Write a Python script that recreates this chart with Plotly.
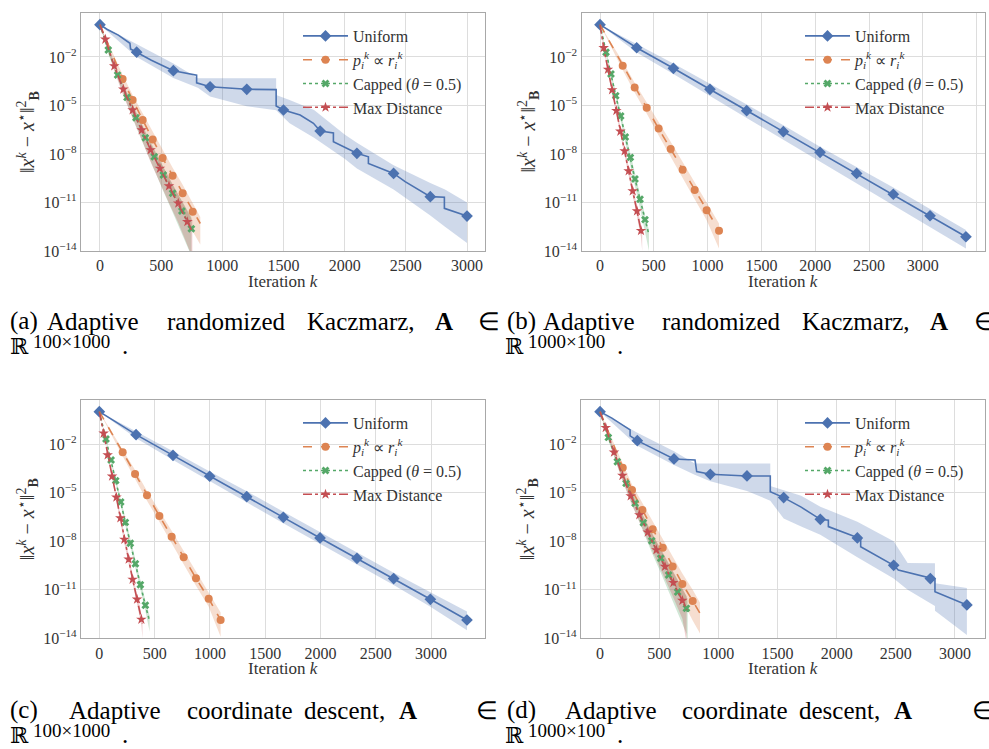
import plotly.graph_objects as go

W, H = 989, 749
SERIF = "Liberation Serif"

# ------------------------------------------------------------------
# Data: iteration k and log10 of the error  ||x^k - x*||_B^2
# ------------------------------------------------------------------
LABELS = ["Uniform",
          "<i>p</i><sub><i>i</i></sub><sup><i>k</i></sup> \u221d <i>r</i><sub><i>i</i></sub><sup><i>k</i></sup>",
          "Capped (<i>\u03b8</i> = 0.5)",
          "Max Distance"]

X_TICKS_A = [0, 500, 1000, 1500, 2000, 2500, 3000]
X_TICKS_B = [0, 500, 1000, 1500, 2000, 2500, 3000, 3500]
Y_TICKS_LOG = [-14, -11, -8, -5, -2]

# ---- panel (a): Kaczmarz, A in R^{100x1000}
A_UNI_K = [0, 60, 150, 245, 250, 300, 420, 600, 700, 790, 790, 900, 1200, 1440, 1440, 1500, 1636, 1745,
           1800, 1908, 1908, 2100, 2194, 2194, 2400, 2494, 2700, 2815, 2815, 3000]
A_UNI_V = [0, -0.3, -0.65, -1.15, -1.5, -1.7, -2.2, -2.85, -3.0, -3.12, -3.6, -3.84, -4.0, -4.02, -5.03,
           -5.28, -5.59, -6.1, -6.58, -6.7, -7.24, -7.96, -8.17, -8.58, -9.2, -9.71, -10.64, -10.68, -11.36, -11.84]
A_UNI_MK = [0, 300, 600, 900, 1200, 1500, 1800, 2100, 2400, 2700, 3000]
A_UNI_BK = [0, 300, 600, 800, 900, 1200, 1440, 1440, 1550, 1750, 2000, 2100, 2400, 2700, 2820, 3000]
A_UNI_HI = [0, -1.2, -2.4, -3.32, -3.32, -3.32, -3.32, -4.35, -4.66, -5.28, -6.8, -7.3, -8.7, -9.8, -10.2, -11.0]
A_UNI_LO = [0, -2.0, -3.3, -3.9, -4.45, -5.05, -5.3, -5.3, -6.1, -7.0, -8.3, -8.9, -10.2, -11.8, -12.5, -13.5]

A_ORA_K = [0, 185, 267, 349, 431, 512, 594, 676, 758, 820]
A_ORA_V = [0, -3.36, -4.66, -5.9, -7.1, -8.25, -9.34, -10.43, -11.57, -12.3]
A_ORA_HI = [0, -3.1, -4.35, -5.5, -6.65, -7.75, -8.85, -9.9, -11.0, -11.9]
A_ORA_LO = [0, -3.7, -5.1, -6.5, -7.8, -9.1, -10.3, -11.5, -12.8, -13.6]
A_ORA_MK = [185, 267, 349, 431, 512, 594, 676, 758]

A_GRN_K = [0, 68, 144, 221, 294, 371, 444, 518, 594, 670, 747]
A_GRN_V = [0, -1.57, -3.12, -4.5, -5.76, -7.0, -8.17, -9.3, -10.43, -11.53, -12.62]
A_GRN_HI = [0, -1.4, -2.9, -4.2, -5.4, -6.6, -7.7, -8.8, -9.9, -10.9, -11.9]
A_GRN_LO = [0, -1.8, -3.4, -4.9, -6.3, -7.7, -9.0, -10.3, -11.6, -12.9, -14.3]
A_GRN_MK = [68, 144, 221, 294, 371, 444, 518, 594, 670, 747]

A_RED_K = [0, 44, 117, 191, 267, 341, 414, 490, 564, 640, 714, 755]
A_RED_V = [0, -0.91, -2.56, -4.0, -5.28, -6.52, -7.75, -8.89, -9.98, -11.05, -12.19, -12.8]
A_RED_HI = [0, -0.8, -2.35, -3.75, -4.98, -6.17, -7.35, -8.44, -9.48, -10.5, -11.6, -12.1]
A_RED_LO = [0, -1.06, -2.86, -4.4, -5.78, -7.12, -8.5, -9.79, -11.03, -12.25, -13.6, -14.4]
A_RED_MK = [44, 117, 191, 267, 341, 414, 490, 564, 640, 714]

# ---- panel (b): Kaczmarz, A in R^{1000x100}
B_UNI_K = [0, 341, 682, 1022, 1363, 1704, 2045, 2385, 2726, 3067, 3401]
B_UNI_V = [0, -1.43, -2.7, -4.0, -5.32, -6.62, -7.9, -9.2, -10.49, -11.82, -13.12]
B_UNI_HI = [0, -1.18, -2.4, -3.65, -4.92, -6.22, -7.55, -8.8, -10.08, -11.4, -12.7]
B_UNI_LO = [0, -1.73, -3.05, -4.4, -5.77, -7.12, -8.48, -9.8, -11.14, -12.52, -13.85]
B_UNI_MK = [0, 341, 682, 1022, 1363, 1704, 2045, 2385, 2726, 3067, 3401]

B_ORA_K = [0, 211, 322, 434, 545, 657, 768, 880, 991, 1106]
B_ORA_V = [0, -2.54, -3.88, -5.14, -6.43, -7.69, -8.97, -10.23, -11.48, -12.74]
B_ORA_HI = [0, -2.3, -3.6, -4.8, -6.05, -7.25, -8.5, -9.75, -10.95, -12.3]
B_ORA_LO = [0, -2.8, -4.2, -5.5, -6.85, -8.15, -9.5, -10.8, -12.1, -13.85]
B_ORA_MK = [211, 322, 434, 545, 657, 768, 880, 991, 1106]

B_GRN_K = [0, 56, 102, 146, 192, 235, 282, 325, 372, 418, 455]
B_GRN_V = [0, -1.71, -3.05, -4.4, -5.65, -6.95, -8.21, -9.55, -10.8, -12.06, -13.0]
B_GRN_HI = [0, -1.61, -2.9, -4.2, -5.45, -6.7, -7.96, -9.25, -10.5, -11.76, -12.7]
B_GRN_LO = [0, -1.86, -3.25, -4.65, -5.95, -7.3, -8.61, -10.0, -11.35, -12.71, -14.0]
B_GRN_MK = [56, 102, 146, 192, 235, 282, 325, 372, 418]

B_RED_K = [0, 34, 74, 112, 152, 189, 229, 266, 304, 344, 381, 392]
B_RED_V = [0, -1.43, -2.77, -4.04, -5.32, -6.6, -7.82, -9.05, -10.29, -11.53, -12.74, -13.1]
B_RED_HI = [0, -1.33, -2.62, -3.86, -5.12, -6.38, -7.58, -8.8, -10.02, -11.25, -12.45, -12.8]
B_RED_LO = [0, -1.55, -2.93, -4.24, -5.55, -6.85, -8.1, -9.35, -10.62, -11.9, -13.15, -14.0]
B_RED_MK = [34, 74, 112, 152, 189, 229, 266, 304, 344, 381]

# ---- panel (c): coordinate descent, A in R^{100x1000}
C_UNI_K = [0, 332, 666, 998, 1333, 1664, 1996, 2330, 2662, 2994, 3325]
C_UNI_V = [0, -1.42, -2.7, -3.99, -5.25, -6.53, -7.8, -9.06, -10.31, -11.59, -12.87]
C_UNI_HI = [0, -1.2, -2.45, -3.7, -4.92, -6.18, -7.45, -8.7, -9.95, -11.15, -12.35]
C_UNI_LO = [0, -1.65, -2.98, -4.3, -5.6, -6.9, -8.2, -9.45, -10.7, -12.05, -13.5]
C_UNI_MK = [0, 332, 666, 998, 1333, 1664, 1996, 2330, 2662, 2994, 3325]

C_ORA_K = [0, 211, 323, 431, 543, 654, 763, 874, 989, 1097]
C_ORA_V = [0, -2.51, -3.85, -5.17, -6.44, -7.72, -9.0, -10.29, -11.55, -12.87]
C_ORA_HI = [0, -2.3, -3.6, -4.9, -6.1, -7.35, -8.6, -9.85, -11.1, -12.4]
C_ORA_LO = [0, -2.75, -4.15, -5.5, -6.8, -8.1, -9.4, -10.75, -12.05, -13.9]
C_ORA_MK = [211, 323, 431, 543, 654, 763, 874, 989, 1097]

C_GRN_K = [0, 60, 106, 148, 193, 235, 280, 326, 371, 416, 455]
C_GRN_V = [0, -1.69, -2.99, -4.26, -5.58, -6.84, -8.13, -9.39, -10.69, -11.96, -12.95]
C_GRN_HI = [0, -1.59, -2.85, -4.08, -5.38, -6.6, -7.88, -9.12, -10.4, -11.66, -12.6]
C_GRN_LO = [0, -1.82, -3.15, -4.45, -5.8, -7.1, -8.4, -9.7, -11.0, -12.3, -13.6]
C_GRN_MK = [60, 106, 148, 193, 235, 280, 326, 371, 416]

C_RED_K = [0, 39, 75, 115, 154, 190, 226, 265, 301, 341, 380, 390]
C_RED_V = [0, -1.34, -2.68, -3.99, -5.29, -6.57, -7.89, -9.12, -10.36, -11.59, -12.83, -13.1]
C_RED_HI = [0, -1.25, -2.55, -3.82, -5.1, -6.35, -7.65, -8.85, -10.08, -11.3, -12.5, -12.8]
C_RED_LO = [0, -1.45, -2.83, -4.17, -5.5, -6.8, -8.15, -9.4, -10.65, -11.9, -13.2, -14.0]
C_RED_MK = [39, 75, 115, 154, 190, 226, 265, 301, 341, 380]

# ---- panel (d): coordinate descent, A in R^{1000x100}
D_UNI_K = [0, 100, 254, 254, 315, 430, 625, 803, 817, 932, 1242, 1439, 1439, 1552, 1700, 1862, 1930, 1930,
           2175, 2203, 2203, 2482, 2521, 2792, 2831, 2831, 3101]
D_UNI_V = [0, -0.4, -1.13, -1.5, -1.79, -2.2, -2.92, -2.99, -3.7, -3.87, -3.97, -3.97, -4.94, -5.31, -5.9,
           -6.65, -6.7, -7.1, -7.8, -7.85, -8.34, -9.49, -9.78, -10.31, -10.35, -11.12, -11.94]
D_UNI_MK = [0, 315, 625, 932, 1242, 1552, 1862, 2175, 2482, 2792, 3101]
D_UNI_BK = [0, 315, 625, 800, 932, 1242, 1439, 1439, 1552, 1700, 1862, 2000, 2175, 2482, 2600, 2831, 2831, 3101]
D_UNI_HI = [0, -1.3, -2.45, -3.2, -3.2, -3.2, -3.2, -4.6, -4.84, -5.2, -5.87, -6.3, -6.8, -8.0, -9.35, -9.37,
            -10.6, -10.9]
D_UNI_LO = [0, -2.1, -3.3, -3.9, -4.3, -4.9, -5.5, -5.5, -6.6, -7.1, -7.6, -8.2, -9.0, -10.3, -11.0, -12.0,
            -12.3, -13.8]

D_ORA_K = [0, 192, 270, 358, 445, 530, 614, 696, 783, 845]
D_ORA_V = [0, -3.46, -4.84, -6.07, -7.27, -8.4, -9.57, -10.64, -11.69, -12.46]
D_ORA_HI = [0, -3.2, -4.5, -5.65, -6.8, -7.85, -8.95, -10.0, -11.0, -11.8]
D_ORA_LO = [0, -3.75, -5.25, -6.6, -7.95, -9.2, -10.5, -11.7, -12.9, -13.7]
D_ORA_MK = [192, 270, 358, 445, 530, 614, 696, 783]

D_GRN_K = [0, 70, 146, 220, 296, 366, 437, 513, 580, 656, 730, 741]
D_GRN_V = [0, -1.59, -3.09, -4.43, -5.66, -6.86, -7.97, -9.06, -10.09, -11.14, -12.15, -12.46]
D_GRN_HI = [0, -1.45, -2.85, -4.15, -5.3, -6.45, -7.5, -8.5, -9.45, -10.45, -11.4, -11.7]
D_GRN_LO = [0, -1.75, -3.35, -4.8, -6.15, -7.45, -8.7, -9.95, -11.15, -12.4, -13.7, -14.3]
D_GRN_MK = [70, 146, 220, 296, 366, 437, 513, 580, 656, 730]

D_RED_K = [0, 48, 118, 189, 259, 332, 403, 476, 549, 620, 696, 732]
D_RED_V = [0, -0.99, -2.51, -3.95, -5.21, -6.38, -7.45, -8.54, -9.57, -10.56, -11.67, -12.25]
D_RED_HI = [0, -0.9, -2.3, -3.7, -4.9, -6.0, -7.0, -8.0, -8.95, -9.9, -10.9, -11.4]
D_RED_LO = [0, -1.1, -2.75, -4.25, -5.6, -6.85, -8.0, -9.2, -10.35, -11.5, -12.8, -14.3]
D_RED_MK = [48, 118, 189, 259, 332, 403, 476, 549, 620, 696]

# ------------------------------------------------------------------
# Assemble
# ------------------------------------------------------------------
PANELS = [
    dict(series=[(A_UNI_K, A_UNI_V, A_UNI_MK, A_UNI_BK, A_UNI_LO, A_UNI_HI),
                 (A_ORA_K, A_ORA_V, A_ORA_MK, A_ORA_K, A_ORA_LO, A_ORA_HI),
                 (A_GRN_K, A_GRN_V, A_GRN_MK, A_GRN_K, A_GRN_LO, A_GRN_HI),
                 (A_RED_K, A_RED_V, A_RED_MK, A_RED_K, A_RED_LO, A_RED_HI)],
         xticks=X_TICKS_A),
    dict(series=[(B_UNI_K, B_UNI_V, B_UNI_MK, B_UNI_K, B_UNI_LO, B_UNI_HI),
                 (B_ORA_K, B_ORA_V, B_ORA_MK, B_ORA_K, B_ORA_LO, B_ORA_HI),
                 (B_GRN_K, B_GRN_V, B_GRN_MK, B_GRN_K, B_GRN_LO, B_GRN_HI),
                 (B_RED_K, B_RED_V, B_RED_MK, B_RED_K, B_RED_LO, B_RED_HI)],
         xticks=X_TICKS_B),
    dict(series=[(C_UNI_K, C_UNI_V, C_UNI_MK, C_UNI_K, C_UNI_LO, C_UNI_HI),
                 (C_ORA_K, C_ORA_V, C_ORA_MK, C_ORA_K, C_ORA_LO, C_ORA_HI),
                 (C_GRN_K, C_GRN_V, C_GRN_MK, C_GRN_K, C_GRN_LO, C_GRN_HI),
                 (C_RED_K, C_RED_V, C_RED_MK, C_RED_K, C_RED_LO, C_RED_HI)],
         xticks=X_TICKS_A),
    dict(series=[(D_UNI_K, D_UNI_V, D_UNI_MK, D_UNI_BK, D_UNI_LO, D_UNI_HI),
                 (D_ORA_K, D_ORA_V, D_ORA_MK, D_ORA_K, D_ORA_LO, D_ORA_HI),
                 (D_GRN_K, D_GRN_V, D_GRN_MK, D_GRN_K, D_GRN_LO, D_GRN_HI),
                 (D_RED_K, D_RED_V, D_RED_MK, D_RED_K, D_RED_LO, D_RED_HI)],
         xticks=X_TICKS_A),
]

# styles
COLORS = ["#4C72B0", "#DD8452", "#55A868", "#C44E52"]
BANDS = ["rgba(76,114,176,0.27)", "rgba(221,132,82,0.27)", "rgba(85,168,104,0.27)", "rgba(196,78,82,0.27)"]
DASHES = ["solid", "dash", "dot", "dashdot"]
SYMBOLS = ["diamond", "circle", "x", "star"]
MSIZES = [9, 8, 7, 8]

# layout geometry (pixels): left, right, top, bottom
BOXES = [(81, 485, 13, 251), (581.5, 985, 13, 251), (81, 485, 400, 638.3), (581, 985, 400, 638.3)]
XRANGES = [[-155, 3147], [-172, 3578], [-166, 3488], [-161, 3254]]
YRANGE = [-14, 0.72]
LEG_POS = [(298, 19), (800, 19), (298, 406), (800, 406)]

fig = go.Figure()

def tolog(v):
    return [10 ** t for t in v]

for p, panel in enumerate(PANELS):
    sfx = "" if p == 0 else str(p + 1)
    xa, ya = "x" + sfx, "y" + sfx
    leg = "legend" + sfx
    for s, (K, V, MK, BK, LO, HI) in enumerate(panel["series"]):
        fig.add_trace(go.Scatter(
            x=list(BK) + list(BK)[::-1], y=tolog(list(HI) + list(LO)[::-1]),
            fill="toself", fillcolor=BANDS[s], line=dict(width=0), mode="lines",
            hoverinfo="skip", showlegend=False, xaxis=xa, yaxis=ya))
    for s, (K, V, MK, BK, LO, HI) in enumerate(panel["series"]):
        fig.add_trace(go.Scatter(
            x=K, y=tolog(V), mode="lines",
            line=dict(color=COLORS[s], width=1.6, dash=DASHES[s]),
            showlegend=False, xaxis=xa, yaxis=ya))
        mv = [V[K.index(m)] for m in MK]
        fig.add_trace(go.Scatter(
            x=MK, y=tolog(mv), mode="markers",
            marker=dict(symbol=SYMBOLS[s], size=MSIZES[s], color=COLORS[s], line=dict(width=0)),
            showlegend=False, xaxis=xa, yaxis=ya))
    for s in range(4):
        fig.add_trace(go.Scatter(
            x=[None], y=[None], mode="lines+markers", name=LABELS[s],
            line=dict(color=COLORS[s], width=1.6, dash=DASHES[s]),
            marker=dict(symbol=SYMBOLS[s], size=MSIZES[s], color=COLORS[s], line=dict(width=0)),
            legend=leg, xaxis=xa, yaxis=ya))

layout = dict(
    template="none",
    width=W, height=H, margin=dict(l=0, r=0, t=0, b=0, autoexpand=False),
    paper_bgcolor="white", plot_bgcolor="white",
    font=dict(family=SERIF, size=16, color="#222222"),
    annotations=[],
)

for p, panel in enumerate(PANELS):
    sfx = "" if p == 0 else str(p + 1)
    l, r, t, b = BOXES[p]
    axcommon = dict(showline=True, linecolor="#a8a8a8", linewidth=1.3, mirror=True, automargin=False,
                    showgrid=True, gridcolor="#dddddd", gridwidth=1, zeroline=False,
                    ticks="", tickfont=dict(family=SERIF, size=16, color="#333333"))
    layout["xaxis" + sfx] = dict(axcommon, domain=[l / W, r / W], range=XRANGES[p],
                                 anchor="y" + sfx, tickvals=panel["xticks"],
                                 ticktext=[str(v) for v in panel["xticks"]])
    layout["yaxis" + sfx] = dict(axcommon, domain=[1 - b / H, 1 - t / H], type="log", range=YRANGE,
                                 anchor="x" + sfx,
                                 tickvals=[10 ** v for v in Y_TICKS_LOG],
                                 ticktext=["10<sup>\u2212%d</sup>" % (-v) for v in Y_TICKS_LOG])
    lx, ly = LEG_POS[p]
    layout["legend" + sfx] = dict(x=lx / W, y=1 - ly / H, xanchor="left", yanchor="top",
                                  bgcolor="rgba(0,0,0,0)", borderwidth=0,
                                  font=dict(family=SERIF, size=16, color="#333333"),
                                  itemwidth=45, tracegroupgap=0)
    layout["annotations"].append(dict(
        text="Iteration <i>k</i>", x=(l + r) / 2 / W, y=1 - (b + 30) / H, xref="paper", yref="paper",
        xanchor="center", yanchor="middle", showarrow=False,
        font=dict(family=SERIF, size=17, color="#333333")))
    layout["annotations"].append(dict(
        text="\u2016<i>x</i><sup><i>k</i></sup> \u2212 <i>x</i><sup>\u22c6</sup>\u2016<sup>2</sup><sub><b>B</b></sub>",
        x=(l - 53) / W, y=1 - (t + b) / 2 / H, xref="paper", yref="paper", textangle=-90,
        xanchor="center", yanchor="middle", showarrow=False,
        font=dict(family=SERIF, size=20, color="#333333")))

# captions
CAP_FONT = dict(family=SERIF, size=25, color="#000000")
CAPTIONS = [
    (0, 321, [("(a)", 8), ("Adaptive", 45), ("randomized", 165), ("Kaczmarz,", 305), ("<b>A</b>", 433), ("\u2208", 476)], "100\u00d71000"),
    (495, 321, [("(b)", 10), ("Adaptive", 46), ("randomized", 165), ("Kaczmarz,", 305), ("<b>A</b>", 433), ("\u2208", 477)], "1000\u00d7100"),
    (0, 710, [("(c)", 8), ("Adaptive", 67), ("coordinate", 185), ("descent,", 302), ("<b>A</b>", 397), ("\u2208", 474)], "100\u00d71000"),
    (495, 710, [("(d)", 10), ("Adaptive", 68), ("coordinate", 185), ("descent,", 302), ("<b>A</b>", 397), ("\u2208", 475)], "1000\u00d7100"),
]
for x0, y0, words, dims in CAPTIONS:
    for w, xo in words:
        layout["annotations"].append(dict(text=w, x=(x0 + xo) / W, y=1 - y0 / H, xref="paper", yref="paper",
                                          xanchor="left", yanchor="middle", showarrow=False, font=CAP_FONT))
    layout["annotations"].append(dict(text="\u211d", x=(x0 + 8) / W, y=1 - (y0 + 25) / H, xref="paper",
                                      yref="paper", xanchor="left", yanchor="middle", showarrow=False,
                                      font=dict(family="DejaVu Serif", size=22, color="#000000")))
    layout["annotations"].append(dict(text=dims, x=(x0 + 31) / W, y=1 - (y0 + 20) / H, xref="paper",
                                      yref="paper", xanchor="left", yanchor="middle", showarrow=False,
                                      font=dict(family=SERIF, size=19, color="#000000")))
    layout["annotations"].append(dict(text=".", x=(x0 + 120) / W, y=1 - (y0 + 24) / H, xref="paper",
                                      yref="paper", xanchor="left", yanchor="middle", showarrow=False,
                                      font=CAP_FONT))

fig.update_layout(**layout)
fig.write_html("out.html", config={"displayModeBar": False},
               post_script="document.body.style.margin='0';document.body.style.overflow='hidden';")
